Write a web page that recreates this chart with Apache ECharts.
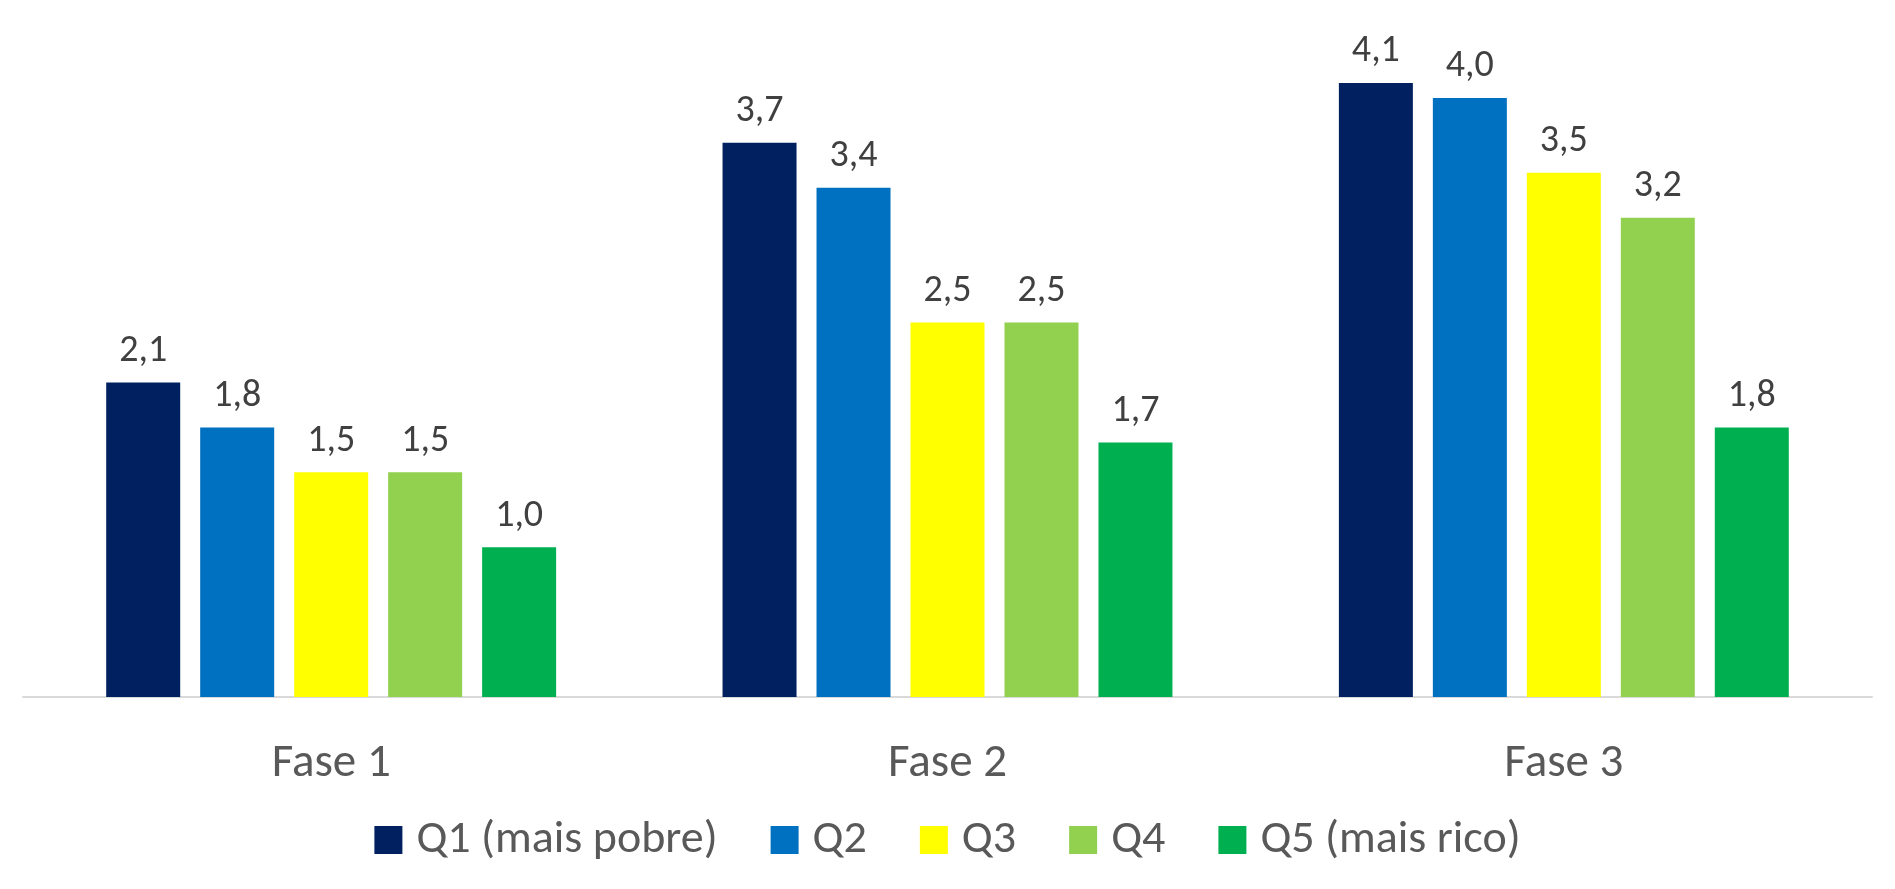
<!DOCTYPE html>
<html>
<head>
<meta charset="utf-8">
<script src="https://cdn.jsdelivr.net/npm/echarts@6/dist/echarts.min.js"></script>
<style>
  html, body { margin: 0; padding: 0; background: #fff; }
  #main { width: 1895px; height: 889px; }
</style>
</head>
<body>
<div id="main"></div>
<script>
// dados do gráfico
var fases = ['Fase 1', 'Fase 2', 'Fase 3'];
var quintis = ['Q1 (mais pobre)', 'Q2', 'Q3', 'Q4', 'Q5 (mais rico)'];
var q1 = [2.1, 3.7, 4.1];
var q2 = [1.8, 3.4, 4.0];
var q3 = [1.5, 2.5, 3.5];
var q4 = [1.5, 2.5, 3.2];
var q5 = [1.0, 1.7, 1.8];
var cores = ['#002060', '#0070C0', '#FFFF00', '#92D050', '#00B050'];

var fonte = 'Calibri, Carlito, Lato, sans-serif';
var valores = [q1, q2, q3, q4, q5];

var series = quintis.map(function (nome, i) {
    return {
        name: nome,
        type: 'bar',
        data: valores[i],
        barWidth: 74,
        barGap: '27%',
        itemStyle: { color: cores[i] },
        label: {
            show: true,
            position: 'top',
            distance: 12,
            color: '#404040',
            fontFamily: fonte,
            fontSize: 38,
            formatter: function (p) { return p.value.toFixed(1).replace('.', ','); }
        }
    };
});

var myChart = echarts.init(document.getElementById('main'));
var option = {
    animation: false,
    color: cores,
    grid: { left: 23, right: 23, top: 23, bottom: 192 },
    legend: {
        data: quintis,
        top: 812,
        left: 'center',
        itemWidth: 28,
        itemHeight: 28,
        itemGap: 53,
        icon: 'rect',
        // o primeiro item ocupa mais espaço no original
        formatter: function (name) {
            return name === quintis[0] ? '{largo|' + name + '}' : name;
        },
        textStyle: {
            color: '#595959',
            fontFamily: fonte,
            fontSize: 46,
            padding: [0, 0, 0, 9],
            rich: {
                largo: { width: 320, color: '#595959', fontFamily: fonte, fontSize: 46 }
            }
        }
    },
    xAxis: {
        type: 'category',
        data: fases,
        axisTick: { show: false },
        axisLine: { lineStyle: { color: '#D9D9D9', width: 2 } },
        axisLabel: {
            color: '#595959',
            fontFamily: fonte,
            fontSize: 47,
            margin: 44
        }
    },
    yAxis: {
        type: 'value',
        min: 0,
        max: 4.5,
        interval: 0.5,
        show: false
    },
    series: series
};
myChart.setOption(option);
</script>
</body>
</html>
